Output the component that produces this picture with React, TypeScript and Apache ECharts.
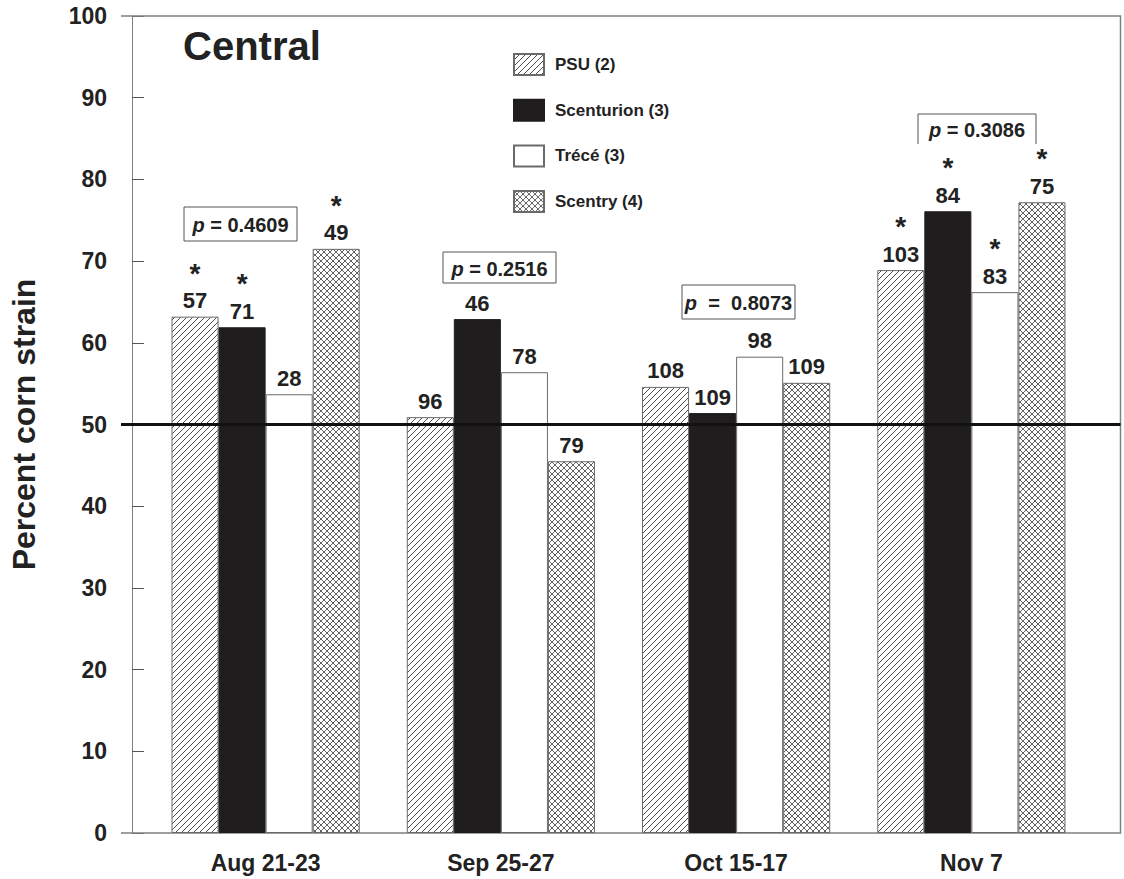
import React, { useEffect, useRef } from 'react';
import * as echarts from 'echarts';

const categories = ['Aug 21-23', 'Sep 25-27', 'Oct 15-17', 'Nov 7'];
const seriesNames = ['PSU (2)', 'Scenturion (3)', 'Trécé (3)', 'Scentry (4)'];
const psuValues = [63.2, 50.9, 54.6, 68.9];
const scenturionValues = [61.9, 62.9, 51.4, 76.1];
const treceValues = [53.7, 56.4, 58.3, 66.2];
const scentryValues = [71.5, 45.5, 55.1, 77.2];
const psuCounts = [57, 96, 108, 103];
const scenturionCounts = [71, 46, 109, 84];
const treceCounts = [28, 78, 98, 83];
const scentryCounts = [49, 79, 109, 75];
const psuSignificant = [true, false, false, true];
const scenturionSignificant = [true, false, false, true];
const treceSignificant = [false, false, false, true];
const scentrySignificant = [true, false, false, true];
const pValueLabels = ['p = 0.4609', 'p = 0.2516', 'p  =  0.8073', 'p = 0.3086'];
const referenceLevel = 50;
const yMin = 0;
const yMax = 100;
const yInterval = 10;
const panelTitle = 'Central';
const yAxisTitle = 'Percent corn strain';

const FONT = '"Liberation Sans", Arial, Helvetica, sans-serif';
const TEXT = '#222222';

function svgTile(body: string, size: number) {
  const svg = `<svg xmlns="http://www.w3.org/2000/svg" width="${size}" height="${size}"><rect width="${size}" height="${size}" fill="#ffffff"/>${body}</svg>`;
  return 'data:image/svg+xml;utf8,' + encodeURIComponent(svg);
}

const hatchPattern = {
  image: svgTile(
    '<path d="M0,6 L6,0 M-1,1 L1,-1 M5,7 L7,5" stroke="#3a3a3a" stroke-width="0.9" fill="none"/>',
    6
  ),
  repeat: 'repeat',
  imageWidth: 6,
  imageHeight: 6,
};

const crossPattern = {
  image: svgTile(
    '<path d="M0,6 L6,0 M-1,1 L1,-1 M5,7 L7,5 M0,0 L6,6 M-1,5 L1,7 M5,-1 L7,1" stroke="#3a3a3a" stroke-width="0.8" fill="none"/>',
    6
  ),
  repeat: 'repeat',
  imageWidth: 6,
  imageHeight: 6,
};

// annotation boxes (layout only)
const pBoxes = [
  { x: 184, y: 207, w: 113, h: 34, open: false },
  { x: 443, y: 252, w: 113, h: 31, open: false },
  { x: 682, y: 285, w: 113, h: 34, open: false },
  { x: 918, y: 114, w: 118, h: 30, open: true },
];

function makeLabel(counts: number[], sig: boolean[]) {
  return {
    show: true,
    position: 'top',
    distance: 4,
    color: TEXT,
    fontFamily: FONT,
    formatter: (p: any) =>
      (sig[p.dataIndex] ? '{star|*}\n' : '') + '{num|' + counts[p.dataIndex] + '}',
    rich: {
      star: { fontSize: 28, fontWeight: 'bold', lineHeight: 31, color: TEXT, fontFamily: FONT, align: 'center' },
      num: { fontSize: 22, fontWeight: 'bold', lineHeight: 24, color: TEXT, fontFamily: FONT, align: 'center' },
    },
  };
}

export default function App() {
  const ref = useRef<HTMLDivElement>(null);

  useEffect(() => {
    document.body.style.margin = '0';
    if (!ref.current) return;
    const chart = echarts.init(ref.current, undefined, { renderer: 'svg' });

    const barBase = { type: 'bar', barGap: '0%', barCategoryGap: '20%' };

    chart.setOption({
      animation: false,
      backgroundColor: '#ffffff',
      grid: { left: 137, right: 35, top: 16, bottom: 46, containLabel: false },
      legend: {
        orient: 'vertical',
        left: 513,
        top: 53,
        padding: 0,
        itemWidth: 30,
        itemHeight: 21,
        itemGap: 22.7,
        icon: 'rect',
        data: seriesNames,
        textStyle: { fontSize: 17, fontWeight: 'bold', color: TEXT, fontFamily: FONT, padding: [0, 0, 0, 6] },
      },
      xAxis: {
        type: 'category',
        data: categories,
        axisLine: { show: false },
        axisTick: { show: false },
        axisLabel: { fontSize: 23, fontWeight: 'bold', color: TEXT, fontFamily: FONT, margin: 18 },
      },
      yAxis: {
        type: 'value',
        min: yMin,
        max: yMax,
        interval: yInterval,
        offset: 16,
        name: yAxisTitle,
        nameLocation: 'middle',
        nameGap: 92,
        nameTextStyle: { fontSize: 32, fontWeight: 'bold', color: TEXT, fontFamily: FONT },
        axisLine: { show: true, lineStyle: { color: '#808080', width: 1 } },
        axisTick: { show: true, inside: true, length: 12, lineStyle: { color: '#555555', width: 1 } },
        splitLine: { show: false },
        axisLabel: { fontSize: 23, fontWeight: 'bold', color: TEXT, fontFamily: FONT, margin: 25 },
      },
      series: [
        {
          ...barBase,
          name: seriesNames[0],
          data: psuValues,
          itemStyle: { color: hatchPattern, borderColor: '#6a6a6a', borderWidth: 1 },
          label: makeLabel(psuCounts, psuSignificant),
        },
        {
          ...barBase,
          name: seriesNames[1],
          data: scenturionValues,
          itemStyle: { color: '#201d1e', borderColor: '#201d1e', borderWidth: 1 },
          label: makeLabel(scenturionCounts, scenturionSignificant),
        },
        {
          ...barBase,
          name: seriesNames[2],
          data: treceValues,
          itemStyle: { color: '#ffffff', borderColor: '#6a6a6a', borderWidth: 1 },
          label: makeLabel(treceCounts, treceSignificant),
        },
        {
          ...barBase,
          name: seriesNames[3],
          data: scentryValues,
          itemStyle: { color: crossPattern, borderColor: '#6a6a6a', borderWidth: 1 },
          label: makeLabel(scentryCounts, scentrySignificant),
        },
      ],
    });

    const yRef = chart.convertToPixel({ yAxisIndex: 0 }, referenceLevel) as number;
    const yTop = chart.convertToPixel({ yAxisIndex: 0 }, yMax) as number;
    const yBottom = chart.convertToPixel({ yAxisIndex: 0 }, yMin) as number;
    const frameLeft = 121;
    const frameRight = 1120.5;

    const graphics: any[] = [
      {
        type: 'polyline',
        z: 1,
        silent: true,
        shape: {
          points: [
            [frameLeft, yTop],
            [frameRight, yTop],
            [frameRight, yBottom],
            [frameLeft, yBottom],
          ],
        },
        style: { stroke: '#808080', lineWidth: 1.5, fill: null },
      },
      {
        type: 'line',
        z: 20,
        silent: true,
        shape: { x1: frameLeft, y1: yRef, x2: frameRight, y2: yRef },
        style: { stroke: '#111111', lineWidth: 3 },
      },
      {
        type: 'text',
        z: 20,
        left: 183,
        top: 26,
        style: { text: panelTitle, font: `bold 40px ${FONT}`, fill: TEXT },
      },
    ];

    pBoxes.forEach((b, i) => {
      if (b.open) {
        graphics.push({
          type: 'polyline',
          z: 20,
          silent: true,
          shape: { points: [[b.x, b.y + b.h], [b.x, b.y], [b.x + b.w, b.y], [b.x + b.w, b.y + b.h]] },
          style: { stroke: '#555555', lineWidth: 1, fill: null },
        });
      } else {
        graphics.push({
          type: 'rect',
          z: 20,
          silent: true,
          shape: { x: b.x, y: b.y, width: b.w, height: b.h },
          style: { stroke: '#555555', lineWidth: 1, fill: '#ffffff' },
        });
      }
      const label = pValueLabels[i];
      const rest = label.slice(1);
      graphics.push({
        type: 'text',
        z: 21,
        silent: true,
        style: {
          x: b.x + b.w / 2,
          y: b.y + b.h / 2 + 1,
          text: '{p|p}{t|' + rest + '}',
          align: 'center',
          verticalAlign: 'middle',
          rich: {
            p: { fontSize: 20, fontStyle: 'italic', fontWeight: 'bold', fill: TEXT, fontFamily: FONT },
            t: { fontSize: 20, fontWeight: 'bold', fill: TEXT, fontFamily: FONT },
          },
        },
      });
    });

    chart.setOption({ graphic: graphics });

    return () => {
      chart.dispose();
    };
  }, []);

  return (
    <div
      ref={ref}
      style={{ position: 'fixed', left: 0, top: 0, width: 1124, height: 879 }}
    />
  );
}
